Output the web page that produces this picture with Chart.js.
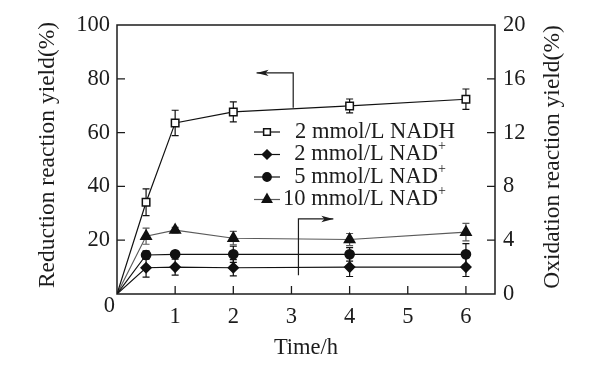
<!DOCTYPE html>
<html><head><meta charset="utf-8">
<script src="https://cdn.jsdelivr.net/npm/chart.js@4/dist/chart.umd.min.js"></script>
<style>html,body{margin:0;padding:0;background:#fff;}canvas{display:block;}</style>
</head><body>
<canvas id="c" width="615" height="367"></canvas>
<script>
// ---- data ----
const times = [0, 0.5, 1, 2, 4, 6];
const nadh2 = [0, 34.1, 63.6, 67.7, 69.9, 72.4];
const nadh2Err = [0, 5.0, 4.7, 3.7, 2.6, 3.8];
const nad2 = [0, 1.95, 2.0, 1.95, 2.0, 2.0];
const nad2Err = [0, 0.7, 0.6, 0.6, 0.7, 0.7];
const nad5 = [0, 2.9, 2.95, 2.95, 2.95, 2.95];
const nad5Err = [0, 0.3, 0.2, 0.6, 0.5, 0.8];
const nad10 = [0, 4.3, 4.75, 4.15, 4.05, 4.6];
const nad10Err = [0, 0.6, 0.2, 0.5, 0.45, 0.65];
const xTicks = [1, 2, 3, 4, 5, 6];
const leftTicks = [0, 20, 40, 60, 80, 100];
const rightTicks = [0, 4, 8, 12, 16, 20];
const seriesNames = ['2 mmol/L NADH', '2 mmol/L NAD', '5 mmol/L NAD', '10 mmol/L NAD'];
const seriesSup = ['', '+', '+', '+'];
const xTitle = 'Time/h';
const leftTitle = 'Reduction reaction yield(%)';
const rightTitle = 'Oxidation reaction yield(%)';
// annotation arrows (data units)
const arrowLeft = [[3.03, 69.2], [3.03, 82.2], [2.4, 82.2]];
const arrowRight = [[3.12, 1.4], [3.12, 5.58], [3.72, 5.58]];

const FONT = '"Liberation Serif", "Times New Roman", serif';
const INK = '#1c1c1c';

const series = [
  {vals: nadh2, err: nadh2Err, axis: 'y', style: 'rect', r: 5.3, fill: '#fff', color: '#111', lw: 1.2},
  {vals: nad2, err: nad2Err, axis: 'y1', style: 'rectRot', r: 5, fill: '#111', color: '#111', lw: 1.2},
  {vals: nad5, err: nad5Err, axis: 'y1', style: 'circle', r: 4.6, fill: '#111', color: '#111', lw: 1.2},
  {vals: nad10, err: nad10Err, axis: 'y1', style: 'triangle', r: 6, fill: '#111', color: '#5a5a5a', lw: 1.1}
];

function marker(ctx, style, x, y, r, fill, stroke) {
  ctx.save();
  ctx.fillStyle = fill; ctx.strokeStyle = stroke; ctx.lineWidth = 1.5;
  ctx.beginPath();
  if (style === 'rect') {
    const s = r * Math.SQRT1_2;
    ctx.rect(x - s, y - s, 2 * s, 2 * s);
  } else if (style === 'rectRot') {
    ctx.moveTo(x, y - r); ctx.lineTo(x + r, y); ctx.lineTo(x, y + r); ctx.lineTo(x - r, y); ctx.closePath();
  } else if (style === 'circle') {
    ctx.arc(x, y, r, 0, Math.PI * 2);
  } else {
    ctx.moveTo(x, y - r); ctx.lineTo(x + r * 0.866, y + r * 0.5); ctx.lineTo(x - r * 0.866, y + r * 0.5); ctx.closePath();
  }
  ctx.fill(); ctx.stroke();
  ctx.restore();
}

function arrow(ctx, pts, ys, xs) {
  const p = pts.map(([a, b]) => [xs.getPixelForValue(a), ys.getPixelForValue(b)]);
  ctx.save();
  ctx.strokeStyle = INK; ctx.fillStyle = INK; ctx.lineWidth = 1.2;
  ctx.beginPath();
  ctx.moveTo(p[0][0], p[0][1]);
  for (let i = 1; i < p.length; i++) ctx.lineTo(p[i][0], p[i][1]);
  ctx.stroke();
  const [x1, y1] = p[p.length - 2], [x2, y2] = p[p.length - 1];
  const ang = Math.atan2(y2 - y1, x2 - x1);
  const L = 12, W = 3.2;
  ctx.translate(x2, y2); ctx.rotate(ang);
  ctx.beginPath();
  ctx.moveTo(0, 0); ctx.lineTo(-L, -W); ctx.lineTo(-L + 3, 0); ctx.lineTo(-L, W); ctx.closePath();
  ctx.fill();
  ctx.restore();
}

const deco = {
  id: 'deco',
  beforeDatasetsDraw(chart) {
    const ctx = chart.ctx, xs = chart.scales.x;
    series.forEach(s => {
      const ys = chart.scales[s.axis];
      ctx.save();
      ctx.strokeStyle = s.color; ctx.lineWidth = 1.2;
      s.err.forEach((e, j) => {
        if (!e) return;
        const px = xs.getPixelForValue(times[j]);
        const t = ys.getPixelForValue(s.vals[j] + e), b = ys.getPixelForValue(s.vals[j] - e);
        ctx.beginPath();
        ctx.moveTo(px, t); ctx.lineTo(px, b);
        ctx.moveTo(px - 3.5, t); ctx.lineTo(px + 3.5, t);
        ctx.moveTo(px - 3.5, b); ctx.lineTo(px + 3.5, b);
        ctx.stroke();
      });
      ctx.restore();
    });
  },
  afterDraw(chart) {
    const ctx = chart.ctx, a = chart.chartArea;
    const xs = chart.scales.x, yl = chart.scales.y, yr = chart.scales.y1;
    ctx.save();
    // frame
    ctx.strokeStyle = INK; ctx.lineWidth = 1.5;
    ctx.strokeRect(a.left, a.top, a.right - a.left, a.bottom - a.top);
    // inward ticks
    ctx.lineWidth = 1.3;
    ctx.beginPath();
    xTicks.forEach(v => { const p = xs.getPixelForValue(v); ctx.moveTo(p, a.bottom); ctx.lineTo(p, a.bottom - 8); });
    leftTicks.slice(1, -1).forEach(v => { const p = yl.getPixelForValue(v); ctx.moveTo(a.left, p); ctx.lineTo(a.left + 8, p); });
    rightTicks.slice(1, -1).forEach(v => { const p = yr.getPixelForValue(v); ctx.moveTo(a.right, p); ctx.lineTo(a.right - 8, p); });
    ctx.stroke();
    ctx.restore();
    // arrows
    arrow(ctx, arrowLeft, yl, xs);
    arrow(ctx, arrowRight, yr, xs);
    // left "0" label (offset below corner as in original)
    ctx.save();
    ctx.fillStyle = INK;
    ctx.font = `22.5px ${FONT}`;
    ctx.textAlign = 'right'; ctx.textBaseline = 'middle';
    ctx.fillText('0', a.left - 2, a.bottom + 12);
    // vertical titles
    ctx.font = `23.5px ${FONT}`;
    ctx.textAlign = 'center';
    ctx.save(); ctx.translate(48, 155); ctx.rotate(-Math.PI / 2); ctx.fillText(leftTitle, 0, 0); ctx.restore();
    ctx.save(); ctx.translate(553, 157); ctx.rotate(-Math.PI / 2); ctx.fillText(rightTitle, 0, 0); ctx.restore();
    // legend
    const rows = [132, 154.5, 177, 199.5];
    series.forEach((s, i) => {
      const y = rows[i];
      ctx.strokeStyle = s.color; ctx.lineWidth = 1.2;
      ctx.beginPath(); ctx.moveTo(254, y); ctx.lineTo(280, y); ctx.stroke();
      marker(ctx, s.style, 267, y, s.r * 0.9, s.fill, '#111');
      ctx.fillStyle = INK;
      ctx.font = `22.5px ${FONT}`;
      ctx.textAlign = 'right'; ctx.textBaseline = 'middle';
      if (seriesSup[i]) {
        ctx.font = `14px ${FONT}`;
        const pw = ctx.measureText(seriesSup[i]).width;
        ctx.textAlign = 'left';
        ctx.fillText(seriesSup[i], 446 - pw, y - 8);
        ctx.font = `22.5px ${FONT}`;
        ctx.textAlign = 'right';
        ctx.fillText(seriesNames[i], 446 - pw, y);
      } else {
        ctx.fillText(seriesNames[i], 455, y);
      }
    });
    ctx.restore();
  }
};

const tickFont = {family: FONT, size: 22.5};
new Chart(document.getElementById('c'), {
  type: 'line',
  data: {
    datasets: series.map((s, i) => ({
      label: seriesNames[i] + seriesSup[i],
      data: times.map((t, j) => ({x: t, y: s.vals[j]})),
      yAxisID: s.axis,
      borderColor: s.color,
      borderWidth: s.lw,
      pointStyle: s.style,
      pointRadius: c => c.dataIndex === 0 ? 0 : s.r,
      pointHoverRadius: c => c.dataIndex === 0 ? 0 : s.r,
      pointBackgroundColor: s.fill,
      pointBorderColor: '#111',
      pointBorderWidth: 1.5,
      tension: 0,
      fill: false
    }))
  },
  options: {
    responsive: false,
    animation: false,
    devicePixelRatio: 1,
    layout: {padding: {top: 25, left: 0, right: 0, bottom: 0}},
    plugins: {legend: {display: false}, tooltip: {enabled: false}},
    scales: {
      x: {
        type: 'linear', min: 0, max: 6.5,
        afterBuildTicks: s => { s.ticks = xTicks.map(v => ({value: v})); },
        afterFit: s => { s.height = 73; },
        grid: {display: false, drawTicks: false},
        border: {display: false},
        ticks: {font: tickFont, color: INK, padding: 10, maxRotation: 0, autoSkip: false},
        title: {display: true, text: xTitle, color: INK, font: {family: FONT, size: 22.5}, padding: {top: 0, bottom: 5}}
      },
      y: {
        type: 'linear', position: 'left', min: 0, max: 100,
        afterBuildTicks: s => { s.ticks = leftTicks.map(v => ({value: v})); },
        afterFit: s => { s.width = 117; },
        grid: {display: false, drawTicks: false},
        border: {display: false},
        ticks: {font: tickFont, color: INK, padding: 7, callback: v => v === 0 ? '' : String(v)}
      },
      y1: {
        type: 'linear', position: 'right', min: 0, max: 20,
        afterBuildTicks: s => { s.ticks = rightTicks.map(v => ({value: v})); },
        afterFit: s => { s.width = 120; },
        grid: {display: false, drawTicks: false},
        border: {display: false},
        ticks: {font: tickFont, color: INK, padding: 8}
      }
    }
  },
  plugins: [deco]
});
</script>
</body></html>
